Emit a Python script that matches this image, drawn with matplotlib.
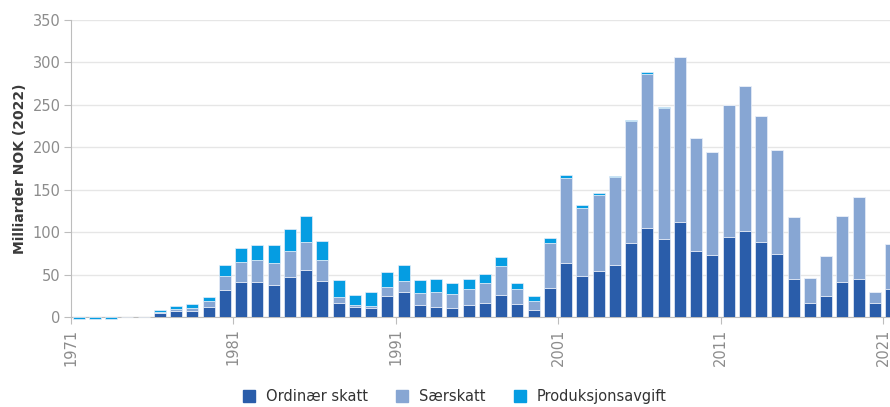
import matplotlib.pyplot as plt
from matplotlib.lines import Line2D
import numpy as np

years = list(range(1971, 2022))

# milliarder NOK, faste 2022-kroner
ordinaer = [0, 0, 0, 0, 0, 5, 7, 7.5, 12.6, 32.7,
            41, 42, 38.6, 47.2, 55.5, 43.3, 16.5, 12.2, 10.6, 25.2,
            29.5, 14.2, 11.8, 10.6, 14.2, 17.3, 26.4, 15.4, 8.7, 34.6,
            64.5, 48.7, 54.6, 62, 87.1, 105.6, 92.2, 112.2, 77.7, 73,
            94.5, 101.8, 88.5, 74, 44.6, 16.8, 25.4, 41.9, 45, 16.8, 33.7]
saerskatt = [0, 0, 0, 0, 0, 1, 3, 4, 6.3, 15.4,
             24, 25.6, 24.8, 30.3, 33.5, 24.4, 7.5, 2, 3.1, 11,
             13.8, 14.2, 18.1, 16.9, 18.9, 22.8, 33.5, 18.1, 10.2, 52.4,
             99.7, 80.5, 89.9, 102.8, 144, 181.3, 154.6, 194.3, 133, 122,
             156, 171, 148.3, 122.5, 74, 29, 46.2, 77.5, 96.7, 12.6, 52.8]
produksjon = [-1.8, -1.8, -1.8, 0, 0, 2.5, 3, 4, 5.5, 13.3,
              16.1, 17.3, 21.7, 26.4, 29.9, 21.7, 19.7, 12.2, 16.1, 17.3,
              18.1, 16.1, 15, 12.6, 11.8, 11.4, 10.6, 6.7, 5.9, 5.9,
              3.5, 2.7, 1.6, 1.6, 1.6, 1.6, 0.3, 0, 0, 0,
              0, 0, 0, 0, 0, 0, 0, 0, 0, 0, 0]

labels = ["Ordinær skatt", "Særskatt", "Produksjonsavgift"]
colors = ["#2a5daa", "#87a6d3", "#059de2"]

W, H = 890, 407
fig = plt.figure(figsize=(W / 100, H / 100), dpi=100)
# the axes run a little past the right edge of the figure
ax = fig.add_axes([70.5 / W, (H - 317.3) / H, 51 * 16.25 / W, 297.3 / H])

x = np.array(years) + 0.5
o = np.array(ordinaer)
s = np.array(saerskatt)
p = np.array(produksjon)
kw = dict(width=0.73, edgecolor="#e8eef8", linewidth=0.5, zorder=3)
ax.bar(x, o, color=colors[0], **kw)
ax.bar(x, s, bottom=o, color=colors[1], **kw)
# small negative values in the first years hang just under the axis
ax.bar(x, p, bottom=o + s, color=colors[2], clip_on=False, **kw)

ax.set_xlim(1971, 2022)
ax.set_ylim(0, 350)
ax.set_yticks(range(0, 351, 50))
ax.set_xticks(range(1971, 2022, 10))
ax.grid(axis="y", color="#e6e6e6", linewidth=1, zorder=0)
for side in ["top", "right"]:
    ax.spines[side].set_visible(False)
for side in ["left", "bottom"]:
    ax.spines[side].set_color("#bdbdbd")
    ax.spines[side].set_zorder(2)
ax.tick_params(axis="x", colors="#bdbdbd", labelcolor="#8c8c8c", labelsize=10.5,
               labelrotation=90, length=5, pad=3)
ax.tick_params(axis="y", colors="#bdbdbd", labelcolor="#8c8c8c", labelsize=10.5,
               length=5, pad=2)
ax.set_ylabel("Milliarder NOK (2022)", fontsize=10, fontweight="bold",
              color="#3a3a3a", labelpad=4)

handles = [Line2D([], [], marker="s", linestyle="none", markersize=8, color=c)
           for c in colors]
fig.legend(handles, labels, loc="lower center", bbox_to_anchor=(0.511, -0.025),
           ncol=3, frameon=False, fontsize=10.5, handlelength=0.9,
           handletextpad=0.7, columnspacing=1.9, labelcolor="#333333")

plt.savefig("out.png")
